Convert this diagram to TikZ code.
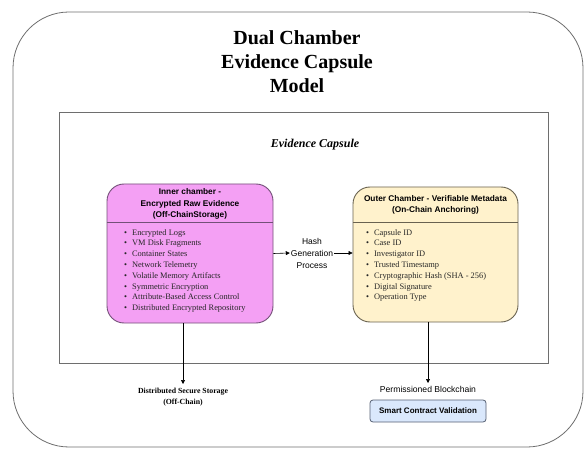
\documentclass[tikz,border=0pt]{standalone}
\usepackage{fontspec}
\setmainfont{Liberation Serif}
\setsansfont{Liberation Sans}
\usetikzlibrary{arrows.meta}

\definecolor{pinkfill}{RGB}{244,160,244}
\definecolor{pinkline}{RGB}{115,80,120}
\definecolor{yellowfill}{RGB}{255,242,204}
\definecolor{yellowline}{RGB}{105,98,80}
\definecolor{bluefill}{RGB}{218,232,252}
\definecolor{blueline}{RGB}{85,95,115}
\definecolor{frameline}{RGB}{110,110,110}

\tikzset{
  chamber/.style={rounded corners=17pt, line width=0.9pt, inner sep=0pt},
  header/.style={font=\sffamily\bfseries\fontsize{8.3}{11.6}\selectfont, align=center, inner sep=0pt},
  itemlist/.style={font=\fontsize{8.4}{10.8}\selectfont, align=left, inner sep=0pt, anchor=north west, text=black!85},
  arr/.style={-{Triangle[length=4pt,width=4pt]}, line width=0.6pt, black},
  plain/.style={inner sep=1pt, align=center},
}

\newcommand{\bul}{\textbullet\hspace{5pt}}

\begin{document}
\begin{tikzpicture}[x=1pt,y=-1pt]
\useasboundingbox (0,0) rectangle (584,449);

% outer frame and capsule frame
\draw[frameline, line width=0.8pt, rounded corners=56pt] (13,12) rectangle (583,447);
\draw[frameline, line width=0.8pt] (59,112) rectangle (548,363);

% title
\node[plain, font=\rmfamily\bfseries\fontsize{20}{24}\selectfont] (title) at (297,62)
  {Dual Chamber\\Evidence Capsule\\Model};
\node[plain, font=\bfseries\itshape\fontsize{12}{14}\selectfont] (capsule) at (315,145) {Evidence Capsule};

% inner chamber
\node[chamber, draw=pinkline, fill=pinkfill, minimum width=166pt, minimum height=139pt] (inner) at (190,253.5) {};
\draw[pinkline, line width=0.7pt] (inner.west |- 0,222) -- (inner.east |- 0,222);
\node[header] (innerhead) at (190,204) {Inner chamber -\\Encrypted Raw Evidence\\(Off-ChainStorage)};
\node[itemlist] (innerlist) at (124,229) {%
  \bul Encrypted Logs\\
  \bul VM Disk Fragments\\
  \bul Container States\\
  \bul Network Telemetry\\
  \bul Volatile Memory Artifacts\\
  \bul Symmetric Encryption\\
  \bul Attribute-Based Access Control\\
  \bul Distributed Encrypted Repository};

% outer chamber
\node[chamber, draw=yellowline, fill=yellowfill, minimum width=165pt, minimum height=135pt] (outer) at (435.5,254.5) {};
\draw[yellowline, line width=0.7pt] (outer.west |- 0,222) -- (outer.east |- 0,222);
\node[header] (outerhead) at (435.5,205) {Outer Chamber - Verifiable Metadata\\(On-Chain Anchoring)};
\node[itemlist] (outerlist) at (366,229) {%
  \bul Capsule ID\\
  \bul Case ID\\
  \bul Investigator ID\\
  \bul Trusted Timestamp\\
  \bul Cryptographic Hash (SHA - 256)\\
  \bul Digital Signature\\
  \bul Operation Type};

% hashing step between the chambers
\node[plain, font=\sffamily\fontsize{8.5}{12}\selectfont] (hash) at (312,253) {Hash\\Generation\\Process};
\draw[arr] (inner.east) -- (hash.west);
\draw[arr] (hash.east) -- (outer.west |- hash.east);

% storage targets
\node[plain, anchor=north, font=\bfseries\fontsize{7.8}{10.5}\selectfont, inner sep=0pt] (dss) at (183,388)
  {Distributed Secure Storage\\(Off-Chain)};
\draw[arr] (inner.south -| dss.north) -- ([yshift=4pt]dss.north);

\node[plain, anchor=north, font=\sffamily\fontsize{8.6}{10}\selectfont, inner sep=0pt] (pbc) at (428,386) {Permissioned Blockchain};
\draw[arr] (outer.south -| pbc.north) -- ([yshift=3pt]pbc.north);

\node[draw=blueline, fill=bluefill, line width=0.8pt, rounded corners=3pt, minimum width=116pt, minimum height=22pt,
      font=\sffamily\bfseries\fontsize{8}{10}\selectfont] (scv) at (428,411) {Smart Contract Validation};
\end{tikzpicture}
\end{document}
